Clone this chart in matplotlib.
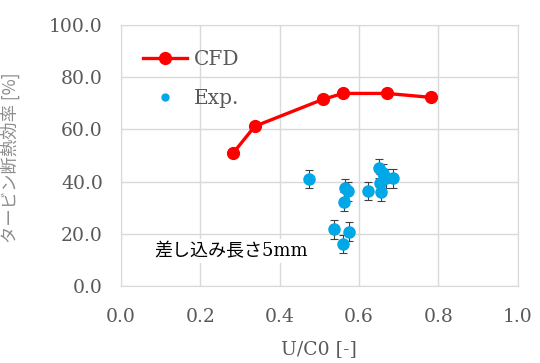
import matplotlib
matplotlib.use('Agg')
import matplotlib.pyplot as plt
import numpy as np

# CFD results
cfd_u = [0.283, 0.337, 0.510, 0.560, 0.670, 0.780]
cfd_eff = [51.0, 61.2, 71.6, 73.8, 73.8, 72.3]

# experiment
exp_u = [0.473, 0.565, 0.573, 0.563, 0.538, 0.574, 0.559,
         0.622, 0.649, 0.660, 0.667, 0.685, 0.656, 0.652]
exp_eff = [41.0, 37.5, 36.3, 32.3, 21.7, 20.8, 16.1,
           36.4, 45.1, 43.2, 41.3, 41.3, 36.1, 39.5]
exp_err = [3.6] * len(exp_u)

xticks = [0.0, 0.2, 0.4, 0.6, 0.8, 1.0]
yticks = [0, 20, 40, 60, 80, 100]

grey = '#595959'
gridc = '#d9d9d9'
serif = ['DejaVu Serif', 'Noto Sans CJK JP']

fig = plt.figure(figsize=(5.4, 3.63), dpi=100, facecolor='w')
ax = fig.add_axes([0.224, 0.212, 0.735, 0.719])

ax.errorbar(exp_u, exp_eff, yerr=exp_err, fmt='o', color='#00a8e8', ms=8,
            ecolor='#404040', elinewidth=0.8, capsize=3, capthick=0.8,
            zorder=3)
ax.plot(cfd_u, cfd_eff, '-o', color='#ff0000', lw=2.4, ms=8.5, zorder=4)

# legend handles, small dot for Exp.
h1, = ax.plot([], [], '-o', color='#ff0000', lw=2.4, ms=8.5)
h2, = ax.plot([], [], 'o', color='#00a8e8', ms=5)
ax.legend([h1, h2], ['CFD', 'Exp.'], loc='upper left', frameon=False,
          bbox_to_anchor=(0.01, 0.975), handlelength=2.2, handletextpad=0.3,
          labelspacing=1.0, prop={'family': serif, 'size': 14.5},
          labelcolor=grey)

ax.text(0.085, 13.5, '差し込み長さ5mm', family=serif, fontsize=13,
        color='black', va='center',
        bbox=dict(facecolor='white', edgecolor='none', pad=2))

ax.set_xlim(0, 1.0)
ax.set_ylim(0, 100)
ax.set_xticks(xticks)
ax.set_yticks(yticks)
ax.set_xticklabels(['%.1f' % v for v in xticks], family=serif, fontsize=13.5, color=grey)
ax.set_yticklabels(['%.1f' % v for v in yticks], family=serif, fontsize=13.5, color=grey)
ax.tick_params(length=0, pad=16)
ax.tick_params(axis='y', pad=13)
ax.grid(True, color=gridc, lw=1)
ax.set_axisbelow(True)
for s in ax.spines.values():
    s.set_color(gridc)

ax.set_xlabel('U/C0 [-]', family=serif, fontsize=13.5, color=grey)
ax.xaxis.set_label_coords(0.5, -0.205)
ax.set_ylabel('タービン断熱効率 [%]', family=['Noto Sans CJK JP', 'DejaVu Serif'],
              fontsize=12.5, color='#8c8c8c')
ax.yaxis.set_label_coords(-0.255, 0.49)

plt.savefig('out.png', dpi=100)
